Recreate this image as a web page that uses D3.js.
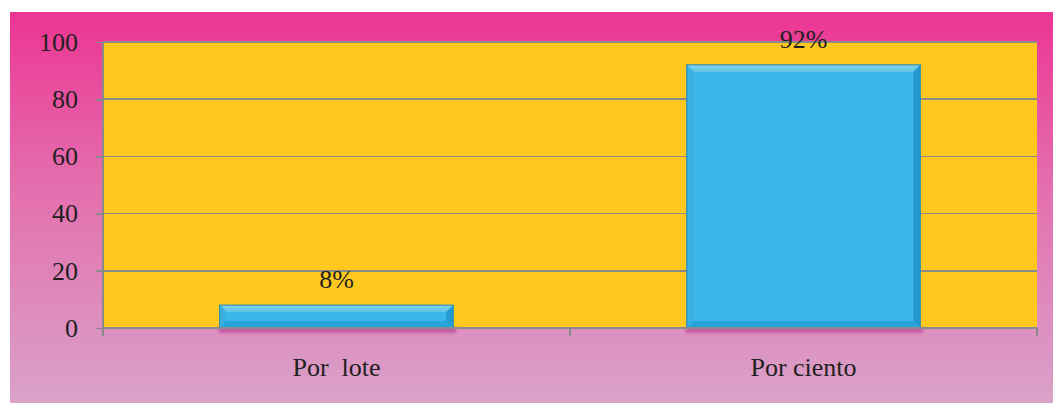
<!DOCTYPE html>
<html>
<head>
<meta charset="utf-8" />
<title>Por lote / Por ciento</title>
<script src="https://d3js.org/d3.v7.min.js"></script>
<style>
  body { margin: 0; background: #fff; }
  text { font-family: "Liberation Serif", "Times New Roman", serif; fill: #231F20; }
  .axis path, .axis line { stroke: #8a8a8a; stroke-width: 1.6; shape-rendering: crispEdges; }
</style>
</head>
<body>
<div id="chart"></div>
<script>
// data
var categories = ["Por  lote", "Por ciento"];
var values = [8, 92];
var valueLabels = ["8%", "92%"];
var yTicks = [0, 20, 40, 60, 80, 100];

var W = 1053, H = 403;
var plot = { left: 103, right: 1037, top: 42, bottom: 328 };

var svg = d3.select("#chart").append("svg")
  .attr("width", W).attr("height", H);

var defs = svg.append("defs");
var bg = defs.append("linearGradient").attr("id", "bg")
  .attr("x1", 0).attr("y1", 0).attr("x2", 0).attr("y2", 1);
bg.append("stop").attr("offset", "0%").attr("stop-color", "#ec3593");
bg.append("stop").attr("offset", "45%").attr("stop-color", "#e46fae");
bg.append("stop").attr("offset", "100%").attr("stop-color", "#d9a2c9");

var barGrad = defs.append("linearGradient").attr("id", "topface")
  .attr("x1", 0).attr("y1", 0).attr("x2", 0).attr("y2", 1);
barGrad.append("stop").attr("offset", "0%").attr("stop-color", "#86d3e8");
barGrad.append("stop").attr("offset", "100%").attr("stop-color", "#5cc4e8");

var shadowBlur = defs.append("filter").attr("id", "blur")
  .attr("x", "-10%").attr("y", "-50%").attr("width", "120%").attr("height", "200%");
shadowBlur.append("feGaussianBlur").attr("stdDeviation", 1.5);

// outer background
svg.append("rect")
  .attr("x", 10).attr("y", 12)
  .attr("width", W - 10).attr("height", H - 12)
  .attr("fill", "url(#bg)");

// plot area
svg.append("rect")
  .attr("x", plot.left).attr("y", plot.top)
  .attr("width", plot.right - plot.left).attr("height", plot.bottom - plot.top)
  .attr("fill", "#fec81f");

var x = d3.scaleBand()
  .domain(categories)
  .range([plot.left, plot.right])
  .paddingInner(0.5)
  .paddingOuter(0.25);

var xOuter = d3.scaleBand().domain(categories).range([plot.left, plot.right]);

var y = d3.scaleLinear().domain([0, 100]).range([plot.bottom, plot.top]);

// gridlines
svg.append("g")
  .selectAll("line")
  .data(yTicks)
  .enter().append("line")
  .attr("x1", plot.left).attr("x2", plot.right)
  .attr("y1", function (d) { return y(d); })
  .attr("y2", function (d) { return y(d); })
  .attr("stroke", "#8a8a8a")
  .attr("stroke-width", 1.6)
  .attr("shape-rendering", "crispEdges");

// y axis
var yAxis = d3.axisLeft(y).tickValues(yTicks).tickSize(7).tickPadding(18);
svg.append("g")
  .attr("class", "axis")
  .attr("transform", "translate(" + plot.left + ",0)")
  .call(yAxis)
  .call(function (g) { g.select(".domain").remove(); })
  .call(function (g) {
    g.selectAll("text").attr("font-size", 26).attr("fill", "#231F20")
      .attr("font-family", "Liberation Serif, Times New Roman, serif");
  });
svg.append("line")
  .attr("x1", plot.left).attr("x2", plot.left)
  .attr("y1", plot.top).attr("y2", plot.bottom + 8)
  .attr("stroke", "#8a8a8a").attr("stroke-width", 1.6)
  .attr("shape-rendering", "crispEdges");

// bars
var bars = svg.append("g").selectAll("g")
  .data(values)
  .enter().append("g");

bars.append("rect")
  .attr("x", function (d, i) { return x(categories[i]) - 1; })
  .attr("y", plot.bottom - 1)
  .attr("width", x.bandwidth() + 4)
  .attr("height", 6)
  .attr("fill", "#b8449c")
  .attr("opacity", 0.7)
  .attr("filter", "url(#blur)");

bars.each(function (d, i) {
  var g = d3.select(this);
  var x0 = x(categories[i]), x1 = x0 + x.bandwidth();
  var y0 = y(d), y1 = y(0);
  var b = Math.min(7, (y1 - y0) / 2);
  g.append("rect")
    .attr("x", x0).attr("y", y0)
    .attr("width", x1 - x0).attr("height", y1 - y0)
    .attr("fill", "#3cb6e8");
  var faces = [
    { pts: [[x0, y0], [x1, y0], [x1 - b, y0 + b], [x0 + b, y0 + b]], fill: "url(#topface)" },
    { pts: [[x0, y0], [x0 + b, y0 + b], [x0 + b, y1 - b], [x0, y1]], fill: "#38b0e2" },
    { pts: [[x1, y0], [x1, y1], [x1 - b, y1 - b], [x1 - b, y0 + b]], fill: "#2499d0" },
    { pts: [[x0, y1], [x0 + b, y1 - b], [x1 - b, y1 - b], [x1, y1]], fill: "#28a3da" }
  ];
  g.selectAll("polygon").data(faces).enter().append("polygon")
    .attr("points", function (f) { return f.pts.map(function (p) { return p.join(","); }).join(" "); })
    .attr("fill", function (f) { return f.fill; });
  g.append("rect")
    .attr("x", x0).attr("y", y0)
    .attr("width", x1 - x0).attr("height", y1 - y0)
    .attr("fill", "none")
    .attr("stroke", "#1f86b8").attr("stroke-width", 1);
});

// x axis line and ticks
svg.append("line")
  .attr("x1", plot.left).attr("x2", plot.right)
  .attr("y1", plot.bottom).attr("y2", plot.bottom)
  .attr("stroke", "#8a8a8a").attr("stroke-width", 1.6)
  .attr("shape-rendering", "crispEdges");
var xTickPos = [plot.left].concat(categories.map(function (c) { return xOuter(c) + xOuter.bandwidth(); }));
svg.append("g").selectAll("line")
  .data(xTickPos)
  .enter().append("line")
  .attr("x1", function (d) { return d; }).attr("x2", function (d) { return d; })
  .attr("y1", plot.bottom).attr("y2", plot.bottom + 8)
  .attr("stroke", "#8a8a8a").attr("stroke-width", 1.6)
  .attr("shape-rendering", "crispEdges");

// category labels
svg.append("g").selectAll("text")
  .data(categories)
  .enter().append("text")
  .attr("x", function (d) { return x(d) + x.bandwidth() / 2; })
  .attr("y", 376)
  .attr("text-anchor", "middle")
  .attr("font-size", 26)
  .style("white-space", "pre")
  .attr("xml:space", "preserve")
  .text(function (d) { return d; });

// value labels
svg.append("g").selectAll("text")
  .data(values)
  .enter().append("text")
  .attr("x", function (d, i) { return x(categories[i]) + x.bandwidth() / 2; })
  .attr("y", function (d) { return y(d) - 17; })
  .attr("text-anchor", "middle")
  .attr("font-size", 26)
  .text(function (d, i) { return valueLabels[i]; });
</script>
</body>
</html>
